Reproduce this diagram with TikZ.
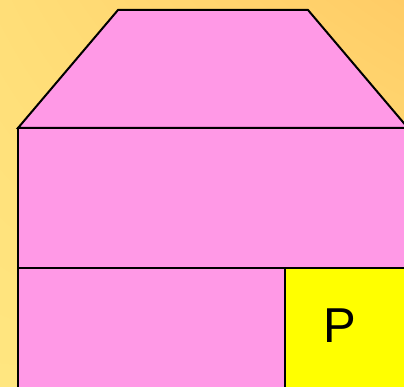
\documentclass[tikz,border=0pt]{standalone}
\usepackage{fontspec}
\setmainfont{Liberation Sans}
\usetikzlibrary{positioning,shadings}
\definecolor{bgyellow}{HTML}{FFE680}
\definecolor{bgtop}{HTML}{FFDE78}
\definecolor{bgorange}{HTML}{FFCC66}
\definecolor{roofpink}{HTML}{FF99E6}
\definecolor{cellyellow}{HTML}{FFFF00}
\begin{document}
\begin{tikzpicture}[
        x=1pt, y=-1pt,
        part/.style={
          draw=black,
          line width=2pt,
          line join=miter,
          fill=roofpink
        },
        tag/.style={
          font=\fontsize{49}{49}\selectfont,
          inner sep=0pt
        }
      ]

      \useasboundingbox (0,0) rectangle (404,387);
      \clip (0,0) rectangle (404,387);

      % background
      \shade[upper left=bgtop, upper right=bgorange,
             lower left=bgyellow, lower right=bgyellow]
        (0,0) rectangle (404,387);

      % roof
      \draw[part] (18,128) -- (118,10) -- (308,10) -- (408,128) -- cycle;

      % body
      \draw[part] (18,128) rectangle (410,268);
      \draw[part] (18,268) rectangle (285,390);
      \draw[part, fill=cellyellow] (285,268) rectangle (410,390);

      \node[tag] (p) at (340,326) {P};

      \end{tikzpicture}
\end{document}
